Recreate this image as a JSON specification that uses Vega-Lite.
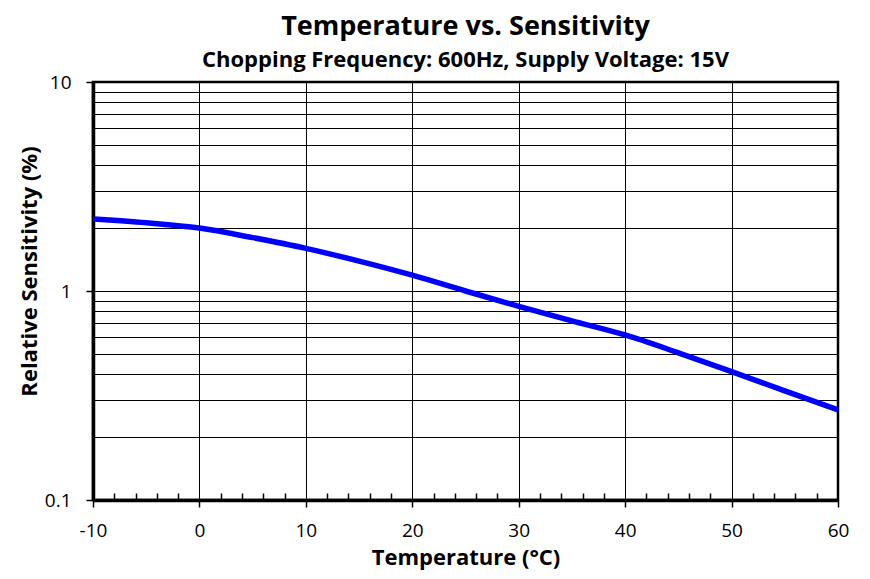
{
  "$schema": "https://vega.github.io/schema/vega-lite/v6.json",
  "autosize": {"type": "none"},
  "padding": {"left": 93, "top": 82, "right": 32, "bottom": 79},
  "width": 745,
  "height": 418,
  "background": "white",
  "title": {
    "text": "Temperature vs. Sensitivity",
    "subtitle": "Chopping Frequency: 600Hz, Supply Voltage: 15V",
    "anchor": "middle",
    "frame": "group",
    "font": "Open Sans",
    "fontSize": 27,
    "fontWeight": "bold",
    "color": "black",
    "subtitleFont": "Open Sans",
    "subtitleFontSize": 22,
    "subtitleFontWeight": "bold",
    "subtitleColor": "black",
    "subtitlePadding": 9,
    "offset": 1
  },
  "config": {
    "view": {"stroke": "black", "strokeWidth": 2.5},
    "axis": {
      "labelFont": "Open Sans",
      "labelFontSize": 19,
      "labelColor": "black",
      "titleFont": "Open Sans",
      "titleFontSize": 22,
      "titleFontWeight": "bold",
      "titleColor": "black",
      "gridColor": "black",
      "gridOpacity": 1,
      "gridWidth": 1,
      "tickColor": "black",
      "domainColor": "black",
      "domainWidth": 3.5
    }
  },
  "data": {
    "values": [
      {"t": -10, "s": 2.21},
      {"t": -5, "s": 2.12},
      {"t": 0, "s": 2.0},
      {"t": 5, "s": 1.8},
      {"t": 10, "s": 1.6},
      {"t": 15, "s": 1.39},
      {"t": 20, "s": 1.19},
      {"t": 25, "s": 1.0},
      {"t": 30, "s": 0.845},
      {"t": 35, "s": 0.72},
      {"t": 40, "s": 0.616},
      {"t": 45, "s": 0.506},
      {"t": 50, "s": 0.411},
      {"t": 55, "s": 0.333},
      {"t": 60, "s": 0.27}
    ]
  },
  "mark": {"type": "line", "color": "#0000FF", "strokeWidth": 5.5, "interpolate": "monotone"},
  "encoding": {
    "x": {
      "field": "t",
      "type": "quantitative",
      "scale": {"domain": [-10, 60], "nice": false, "zero": false},
      "axis": {
        "title": "Temperature (°C)",
        "values": [-10, -8, -6, -4, -2, 0, 2, 4, 6, 8, 10, 12, 14, 16, 18, 20, 22, 24, 26, 28, 30, 32, 34, 36, 38, 40, 42, 44, 46, 48, 50, 52, 54, 56, 58, 60],
        "labelExpr": "datum.value % 10 == 0 ? (datum.value < 0 ? '-' + abs(datum.value) : datum.label) : ''",
        "grid": true,
        "gridOpacity": {"condition": {"test": "datum.value % 10 == 0", "value": 1}, "value": 0},
        "tickSize": {"condition": {"test": "datum.value % 10 == 0", "value": 7}, "value": -7},
        "tickWidth": 1.5,
        "labelPadding": 14,
        "labelFlush": false,
        "labelOverlap": false,
        "titlePadding": 7
      }
    },
    "y": {
      "field": "s",
      "type": "quantitative",
      "scale": {"type": "log", "domain": [0.1, 10], "nice": false},
      "axis": {
        "title": "Relative Sensitivity (%)",
        "titleY": 189,
        "values": [0.1, 0.2, 0.3, 0.4, 0.5, 0.6, 0.7, 0.8, 0.9, 1, 2, 3, 4, 5, 6, 7, 8, 9, 10],
        "labelExpr": "(datum.value == 0.1 || datum.value == 1 || datum.value == 10) ? datum.label : ''",
        "grid": true,
        "tickOpacity": {"condition": {"test": "datum.value == 0.1 || datum.value == 1 || datum.value == 10", "value": 1}, "value": 0},
        "tickSize": 7,
        "tickWidth": 1.5,
        "labelPadding": 15,
        "labelFlush": false,
        "labelOverlap": false,
        "titlePadding": 3
      }
    }
  }
}
